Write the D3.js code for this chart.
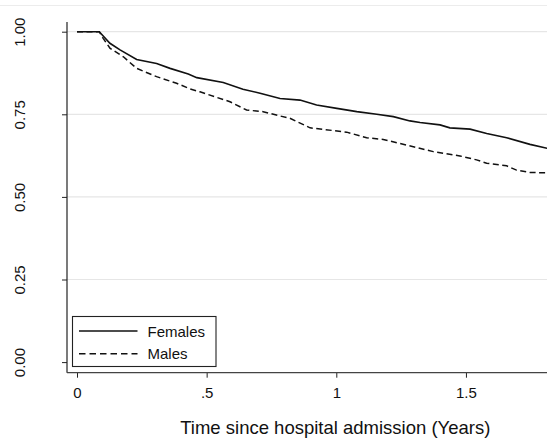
<!DOCTYPE html>
<html><head><meta charset="utf-8">
<script src="https://cdn.jsdelivr.net/npm/d3@7"></script>
<style>body{margin:0;background:#fff}svg{display:block;font-family:"Liberation Sans",Arial,sans-serif}</style>
</head><body>
<div id="chart"></div>
<script>
const femalesT = [0, 0.086, 0.127, 0.166, 0.230, 0.307, 0.359, 0.429, 0.462, 0.564, 0.640, 0.706, 0.783, 0.860, 0.924, 1.002, 1.079, 1.156, 1.220, 1.284, 1.323, 1.400, 1.438, 1.516, 1.580, 1.657, 1.747, 1.813];
const femalesS = [1.0, 1.0, 0.965, 0.945, 0.916, 0.904, 0.889, 0.872, 0.861, 0.846, 0.826, 0.814, 0.798, 0.793, 0.778, 0.768, 0.758, 0.750, 0.743, 0.730, 0.725, 0.718, 0.709, 0.705, 0.692, 0.679, 0.659, 0.647];
const malesT = [0, 0.086, 0.101, 0.127, 0.179, 0.230, 0.307, 0.384, 0.436, 0.474, 0.590, 0.654, 0.718, 0.783, 0.821, 0.899, 1.040, 1.117, 1.181, 1.297, 1.374, 1.477, 1.541, 1.580, 1.657, 1.695, 1.747, 1.813];
const malesS = [1.0, 1.0, 0.980, 0.950, 0.924, 0.889, 0.864, 0.844, 0.827, 0.818, 0.788, 0.763, 0.758, 0.745, 0.738, 0.709, 0.696, 0.679, 0.674, 0.652, 0.637, 0.624, 0.612, 0.602, 0.594, 0.581, 0.574, 0.573];
const xTicks = [0, 0.5, 1, 1.5];
const xTickLabels = ["0", ".5", "1", "1.5"];
const yTicks = [0, 0.25, 0.5, 0.75, 1];
const yTickLabels = ["0.00", "0.25", "0.50", "0.75", "1.00"];
const seriesNames = ["Females", "Males"];

const W = 547, H = 443;
const svg = d3.select("#chart").append("svg").attr("width", W).attr("height", H);

const x = d3.scaleLinear().domain([0, 1]).range([77, 336.3]);
const y = d3.scaleLinear().domain([0, 1]).range([362.1, 31.7]);
const axisX = 67, axisY = 372.7;

// top light line
svg.append("line").attr("x1", 0).attr("x2", W).attr("y1", 5.5).attr("y2", 5.5)
  .attr("stroke", "#ececec").attr("stroke-width", 1);

// gridlines
svg.append("g").selectAll("line").data(yTicks.filter(d => d > 0)).join("line")
  .attr("x1", axisX).attr("x2", W).attr("y1", d => y(d)).attr("y2", d => y(d))
  .attr("stroke", "#e6e6e6").attr("stroke-width", 1.2);

// y axis
const yAxis = d3.axisLeft(y).tickValues(yTicks).tickSize(5).tickFormat((d, i) => yTickLabels[i]);
const gy = svg.append("g").attr("transform", `translate(${axisX},0)`).call(yAxis);
gy.select(".domain").remove();
gy.selectAll(".tick line").attr("stroke", "#222");
gy.selectAll(".tick text").attr("font-size", 15).attr("fill", "#111")
  .attr("text-anchor", "middle").attr("x", 0).attr("dy", 0)
  .attr("transform", "translate(-42,0) rotate(-90)").attr("y", 0);
svg.append("line").attr("x1", axisX).attr("x2", axisX).attr("y1", 22).attr("y2", axisY)
  .attr("stroke", "#222").attr("stroke-width", 1.2);

// x axis
const xAxis = d3.axisBottom(x).tickValues(xTicks).tickSize(5).tickFormat((d, i) => xTickLabels[i]);
const gx = svg.append("g").attr("transform", `translate(0,${axisY})`).call(xAxis);
gx.select(".domain").remove();
gx.selectAll(".tick line").attr("stroke", "#222");
gx.selectAll(".tick text").attr("font-size", 15).attr("fill", "#111").attr("y", 25).attr("dy", 0);
svg.append("line").attr("x1", axisX).attr("x2", W).attr("y1", axisY).attr("y2", axisY)
  .attr("stroke", "#444").attr("stroke-width", 1.2);

// lines
const line = d3.line().x(d => x(d[0])).y(d => y(d[1]));
const fem = femalesT.map((t, i) => [t, femalesS[i]]);
const mal = malesT.map((t, i) => [t, malesS[i]]);
svg.append("path").datum(mal).attr("d", line).attr("fill", "none")
  .attr("stroke", "#111").attr("stroke-width", 1.5).attr("stroke-dasharray", "6,3.5");
svg.append("path").datum(fem).attr("d", line).attr("fill", "none")
  .attr("stroke", "#111").attr("stroke-width", 1.6);

// title
svg.append("text").attr("x", 335.3).attr("y", 434).attr("text-anchor", "middle")
  .attr("font-size", 18.5).attr("fill", "#111").text("Time since hospital admission (Years)");

// legend
const lg = svg.append("g");
lg.append("rect").attr("x", 72.5).attr("y", 316.5).attr("width", 143.5).attr("height", 50)
  .attr("fill", "#fff").attr("stroke", "#222").attr("stroke-width", 1.1);
const ly = [331, 353.7];
seriesNames.forEach((n, i) => {
  lg.append("line").attr("x1", 79).attr("x2", 137.5).attr("y1", ly[i]).attr("y2", ly[i])
    .attr("stroke", "#111").attr("stroke-width", 1.5)
    .attr("stroke-dasharray", i === 1 ? "6.5,4" : null);
  lg.append("text").attr("x", 147.5).attr("y", ly[i] + 5.5).attr("font-size", 15)
    .attr("fill", "#111").text(n);
});
</script>
</body></html>
